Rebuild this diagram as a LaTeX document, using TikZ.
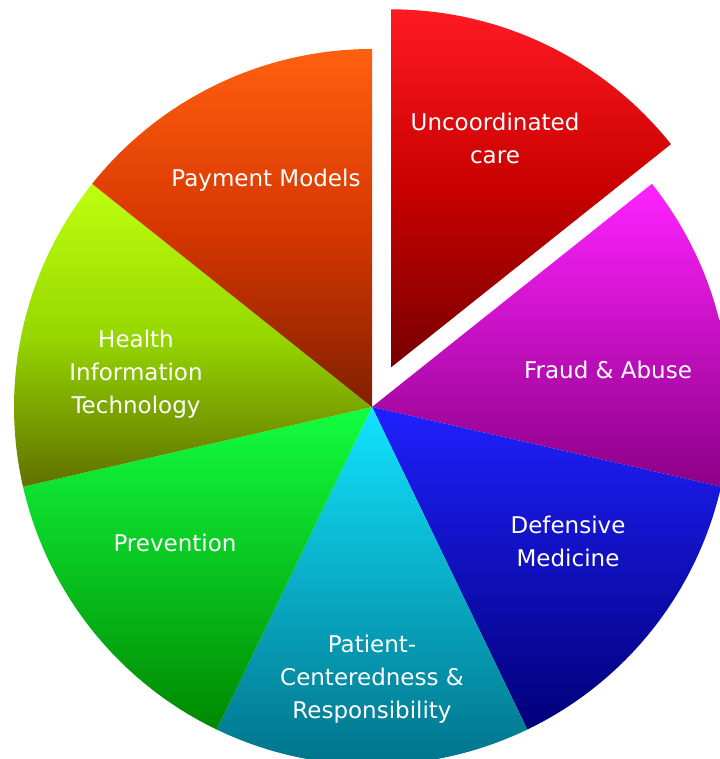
\documentclass[tikz,border=0pt]{standalone}
\usepackage{fontspec}
\setmainfont{DejaVu Sans}
\usetikzlibrary{calc}
\begin{document}
\begin{tikzpicture}[x=1pt,y=1pt,
  lbl/.style={text=white, align=center, font=\fontsize{23}{33}\selectfont, inner sep=0pt}]
\useasboundingbox (0,0) rectangle (719,759);
\def\R{358}
\coordinate (c) at (372,352);
% Uncoordinated care (exploded)
\coordinate (cu) at ($(c)+(64.29:44)$);
\shade[top color={rgb,255:red,255;green,26;blue,34}, bottom color={rgb,255:red,120;green,0;blue,0}, middle color={rgb,255:red,200;green,0;blue,0}]
  (cu) -- ++(90:\R) arc[start angle=90, end angle=38.57, radius=\R] -- cycle;
% Fraud & Abuse
\shade[top color={rgb,255:red,255;green,34;blue,255}, bottom color={rgb,255:red,140;green,0;blue,135}]
  (c) -- ++(38.57:\R) arc[start angle=38.57, end angle=-12.86, radius=\R] -- cycle;
% Defensive Medicine
\shade[top color={rgb,255:red,32;green,32;blue,255}, bottom color={rgb,255:red,0;green,0;blue,120}]
  (c) -- ++(-12.86:\R) arc[start angle=-12.86, end angle=-64.29, radius=\R] -- cycle;
% Patient
\shade[top color={rgb,255:red,18;green,228;blue,255}, bottom color={rgb,255:red,0;green,112;blue,135}]
  (c) -- ++(-64.29:\R) arc[start angle=-64.29, end angle=-115.71, radius=\R] -- cycle;
% Prevention
\shade[top color={rgb,255:red,18;green,255;blue,64}, bottom color={rgb,255:red,0;green,136;blue,0}]
  (c) -- ++(-115.71:\R) arc[start angle=-115.71, end angle=-167.14, radius=\R] -- cycle;
% HIT
\shade[top color={rgb,255:red,190;green,255;blue,16}, bottom color={rgb,255:red,96;green,112;blue,0}, middle color={rgb,255:red,150;green,215;blue,0}]
  (c) -- ++(-167.14:\R) arc[start angle=-167.14, end angle=-218.57, radius=\R] -- cycle;
% Payment Models
\shade[top color={rgb,255:red,255;green,96;blue,16}, bottom color={rgb,255:red,128;green,32;blue,0}, middle color={rgb,255:red,215;green,55;blue,0}]
  (c) -- ++(141.43:\R) arc[start angle=141.43, end angle=90, radius=\R] -- cycle;

\node[lbl] (uc) at (495,621) {Uncoordinated\\care};
\node[lbl] (pm) at (266,579) {Payment Models};
\node[lbl] (hit) at (136,385) {Health\\Information\\Technology};
\node[lbl] (fa) at (608,389) {Fraud \& Abuse};
\node[lbl] (dm) at (568,218) {Defensive\\Medicine};
\node[lbl] (pv) at (175,216) {Prevention};
\node[lbl] (pc) at (372,80) {Patient-\\Centeredness \&\\Responsibility};
\end{tikzpicture}
\end{document}
